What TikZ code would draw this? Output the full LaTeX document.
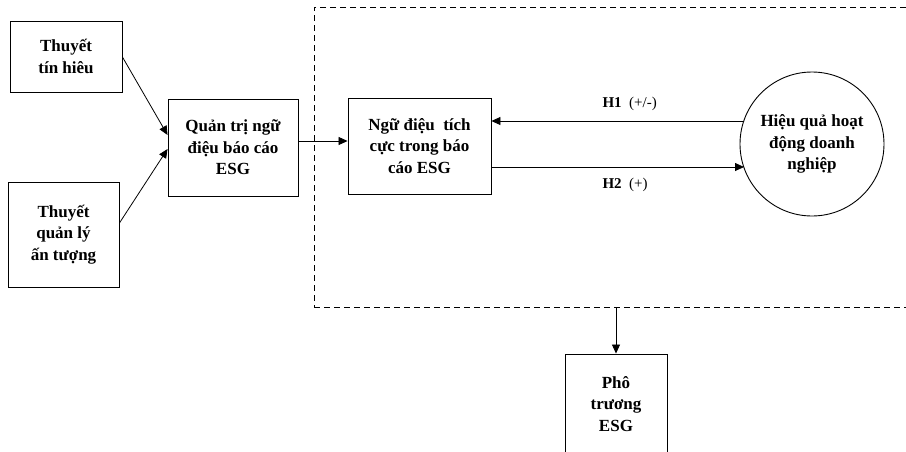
\documentclass[tikz,border=0pt]{standalone}
\usepackage{fontspec}
\setmainfont{Liberation Serif}
\usetikzlibrary{arrows.meta, positioning, shapes.geometric}

\begin{document}
\begin{tikzpicture}[
  x=1pt, y=-1pt,
  box/.style={draw, rectangle, align=center, inner sep=2pt,
    font=\fontsize{17}{21.5}\selectfont\bfseries, line width=0.9pt},
  oval/.style={draw, circle, align=center, inner sep=0pt,
    font=\fontsize{17}{21.5}\selectfont\bfseries, line width=0.9pt},
  hyp/.style={font=\fontsize{15}{18}\selectfont},
  >={Triangle[length=9pt, width=8pt]}
]
  \path[use as bounding box, clip] (0,0) rectangle (906,451);

  % Theories
  \node[box, minimum width=112pt, minimum height=71pt] (tinhieu) at (66,56.5)
    {Thuyết\\tín hiêu};
  \node[box, minimum width=111pt, minimum height=105pt] (antuong) at (63.5,234.5)
    {Thuyết\\quản lý\\ấn tượng};

  % Governance
  \node[box, minimum width=130pt, minimum height=97pt] (quantri) at (233,147.5)
    {Quản trị ngữ\\điệu báo cáo\\ESG};

  % Frame
  \node[draw, dash pattern=on 6pt off 4pt, line width=0.8pt,
    minimum width=606pt, minimum height=300pt] (frame) at (617,157) {};

  \node[box, minimum width=143pt, minimum height=96pt] (ngudieu) at (419.5,146)
    {Ngữ điệu\ \ tích\\cực trong báo\\cáo ESG};
  \node[oval, minimum size=144pt] (hieuqua) at (812,144)
    {Hiệu quả hoạt\\động doanh\\nghiệp};

  % Outcome
  \node[box, minimum width=102pt, minimum height=100pt] (photruong) at (616,404)
    {Phô\\trương\\ESG};

  % Connections
  \coordinate (tip1) at (quantri.west |- 0,135);
  \coordinate (tip2) at (quantri.west |- 0,149);
  \coordinate (h1s) at (744,121);
  \coordinate (h2e) at (744,167);
  \draw[->, line width=0.8pt] (tinhieu.east |- 0,57) -- (tip1);
  \draw[->, line width=0.8pt] (antuong.east |- 0,223) -- (tip2);
  \draw[->, line width=0.8pt] (quantri.east |- 0,141) -- (ngudieu.west |- 0,141);

  \draw[->, line width=0.8pt] (h1s) -- (ngudieu.east |- h1s);
  \draw[->, line width=0.8pt] (ngudieu.east |- h2e) -- (h2e);
  \draw[->, line width=0.8pt] (photruong.north |- frame.south) -- (photruong.north);

  % Labels
  \node[hyp, anchor=west] (lblh1) at (599,104) {\textbf{H1}\ \ (+/-)};
  \node[hyp, anchor=west] (lblh2) at (599,185) {\textbf{H2}\ \ (+)};
\end{tikzpicture}
\end{document}
